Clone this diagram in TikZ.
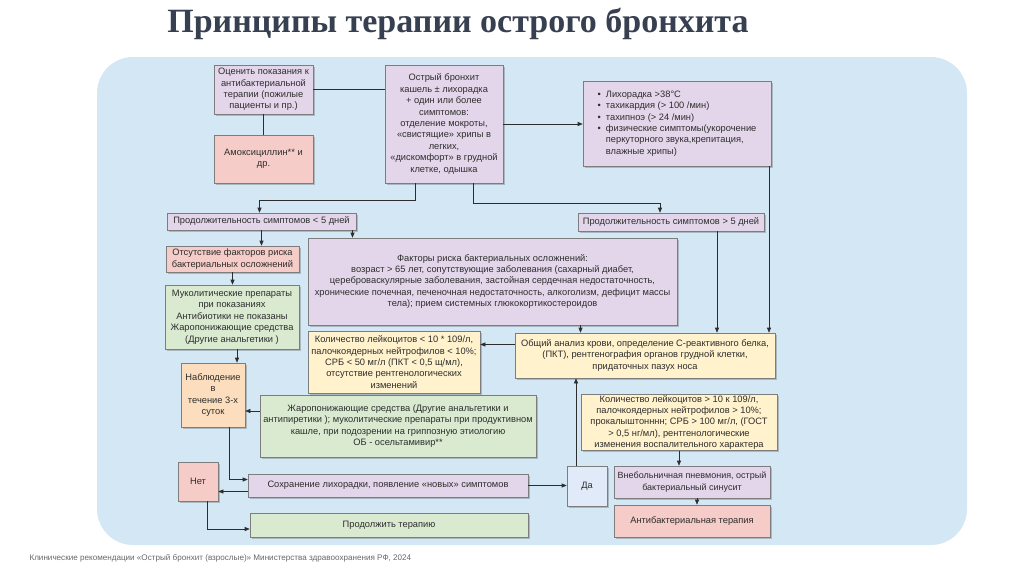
\documentclass[tikz,border=0pt]{standalone}
\usepackage{fontspec}
\setmainfont{Liberation Sans}
\newfontfamily\titlefont{Liberation Serif}
\usetikzlibrary{arrows.meta,positioning,calc,shadows}

\definecolor{bgblue}{RGB}{212,231,244}
\definecolor{lilac}{RGB}{228,214,234}
\definecolor{rose}{RGB}{246,204,200}
\definecolor{mint}{RGB}{217,234,208}
\definecolor{cream}{RGB}{255,242,204}
\definecolor{peach}{RGB}{252,222,190}
\definecolor{sky}{RGB}{224,234,248}
\definecolor{edge}{RGB}{125,125,125}
\definecolor{ink}{RGB}{45,45,45}
\definecolor{titleink}{RGB}{55,64,80}

\begin{document}
\begin{tikzpicture}[x=1pt, y=-1pt,
    box/.style={draw=edge, line width=0.6pt, align=center, inner sep=1pt, text=ink,
        font=\fontsize{9.3}{11.4}\selectfont,
        drop shadow={shadow xshift=1.5pt, shadow yshift=-1.5pt, opacity=0.3, fill=black!70}},
    arr/.style={-{Triangle[length=5pt, width=4pt]}, line width=0.6pt, draw=ink},
    link/.style={line width=0.6pt, draw=ink}
]
\useasboundingbox (0,0) rectangle (1024,574);
\fill[bgblue, rounded corners=36pt] (97,57) rectangle (967,545);

\node[font=\titlefont\bfseries\fontsize{34}{40}\selectfont, text=titleink] (title) at (458,24) {Принципы терапии острого бронхита};
\node[anchor=west, font=\fontsize{8.1}{9}\selectfont, text=black!60] (src) at (26,558) {Клинические рекомендации «Острый бронхит (взрослые)» Министерства здравоохранения РФ, 2024};

\node[box, fill=lilac, minimum width=99pt, minimum height=49pt] (assess) at (263.5,89.5) {Оценить показания к\\антибактериальной\\терапии (пожилые\\пациенты и пр.)};
\node[box, fill=rose, minimum width=99pt, minimum height=48pt] (amox) at (263.5,159) {Амоксициллин** и\\др.};
\node[box, fill=lilac, minimum width=118pt, minimum height=118pt] (acute) at (444,124) {Острый бронхит\\кашель ± лихорадка\\+ один или более\\симптомов:\\отделение мокроты,\\«свистящие» хрипы в\\легких,\\«дискомфорт» в грудной\\клетке, одышка};
\node[box, fill=lilac, minimum width=188pt, minimum height=85pt] (signs) at (677,123.5) {\begin{tabular}{@{}l@{\hspace{5pt}}l@{}}
\textbullet & Лихорадка >38°С\\
\textbullet & тахикардия (> 100 /мин)\\
\textbullet & тахипноэ (> 24 /мин)\\
\textbullet & физические симптомы(укорочение\\
 & перкуторного звука,крепитация,\\
 & влажные хрипы)
\end{tabular}};

\node[box, fill=lilac, minimum width=189pt, minimum height=17pt] (short5) at (261.5,221.5) {Продолжительность симптомов < 5 дней};
\node[box, fill=lilac, minimum width=186pt, minimum height=18pt] (long5) at (671,222) {Продолжительность симптомов > 5 дней};

\node[box, fill=rose, minimum width=133pt, minimum height=26pt] (norisk) at (232.5,259) {Отсутствие факторов риска\\бактериальных осложнений};
\node[box, fill=lilac, minimum width=369pt, minimum height=87pt] (risk) at (492.5,281.5) {Факторы риска бактериальных осложнений:\\возраст > 65 лет, сопутствующие заболевания (сахарный диабет,\\цереброваскулярные заболевания, застойная сердечная недостаточность,\\хронические почечная, печеночная недостаточность, алкоголизм, дефицит массы\\тела); прием системных глюкокортикостероидов};
\node[box, fill=mint, minimum width=134pt, minimum height=64pt] (muco) at (232,317) {Муколитические препараты\\при показаниях\\Антибиотики не показаны\\Жаропонижающие средства\\(Другие анальгетики )};

\node[box, fill=cream, minimum width=172pt, minimum height=62pt] (lowlab) at (394,362) {Количество лейкоцитов < 10 * 109/л,\\палочкоядерных нейтрофилов < 10\%;\\СРБ < 50 мг/л (ПКТ < 0,5 щ/мл),\\отсутствие рентгенологических\\изменений};
\node[box, fill=cream, minimum width=260pt, minimum height=45pt] (tests) at (645,355.5) {Общий анализ крови, определение С-реактивного белка,\\(ПКТ), рентгенография органов грудной клетки,\\придаточных пазух носа};
\node[box, fill=peach, minimum width=64pt, minimum height=64pt] (watch) at (213,395) {Наблюдение\\в\\течение 3-х\\суток};
\node[box, fill=mint, minimum width=276pt, minimum height=62pt] (antipyr) at (398,426) {Жаропонижающие средства (Другие анальгетики и\\антипиретики ); муколитические препараты при продуктивном\\кашле, при подозрении на гриппозную этиологию\\ОБ - осельтамивир**};
\node[box, fill=cream, minimum width=196pt, minimum height=55pt] (highlab) at (679,422.5) {Количество лейкоцитов > 10 к 109/л,\\палочкоядерных нейтрофилов > 10\%;\\прокалыштонннн; СРБ > 100 мг/л, (ГОСТ\\> 0,5 нг/мл), рентгенологические\\изменения воспалительного характера};

\node[box, fill=rose, minimum width=40pt, minimum height=39pt] (no) at (198,481.5) {Нет};
\node[box, fill=lilac, minimum width=280pt, minimum height=23pt] (persist) at (388,485.5) {Сохранение лихорадки, появление «новых» симптомов};
\node[box, fill=sky, minimum width=40pt, minimum height=40pt] (yes) at (587,486) {Да};
\node[box, fill=lilac, minimum width=156pt, minimum height=32pt, font=\fontsize{9}{11.4}\selectfont] (pneum) at (692,482) {Внебольничная пневмония, острый\\бактериальный синусит};
\node[box, fill=rose, minimum width=156pt, minimum height=32pt] (abx) at (692,521) {Антибактериальная терапия};
\node[box, fill=mint, minimum width=278pt, minimum height=24pt] (cont) at (389,525) {Продолжить терапию};

\draw[link] (assess.east) -- (assess.east -| acute.west);
\draw[link] (assess) -- (amox);
\draw[arr] (acute.east) -- (acute.east -| signs.west);
\draw[arr] ([xshift=-29pt]acute.south) -- ++(0,17) -| ([xshift=-2pt]short5.north);
\draw[arr] ([xshift=29pt]acute.south) -- ++(0,20) -| ([xshift=-11pt]long5.north);
\draw[arr] (short5.south) -- (short5.south |- norisk.north);
\draw[arr] ([xshift=91pt]short5.south) -- ([xshift=91pt]short5.south |- risk.north);
\draw[arr] (norisk.south) -- (norisk.south |- muco.north);
\draw[arr] ([xshift=5pt]muco.south) -- ([xshift=5pt]muco.south |- watch.north);
\draw[arr] ([xshift=88pt]risk.south) -- ([xshift=88pt]risk.south |- tests.north);
\draw[arr] ([xshift=46pt]long5.south) -- ([xshift=46pt]long5.south |- tests.north);
\draw[arr] ([xshift=92pt]signs.south) -- ([xshift=92pt]signs.south |- tests.north);
\draw[arr] ([yshift=11pt]tests.west) -- ([yshift=11pt]tests.west -| lowlab.east);
\draw[arr] ([xshift=-11pt]yes.north) -- ([xshift=-11pt]yes.north |- tests.south);
\draw[arr] (highlab.south) -- (highlab.south |- pneum.north);
\draw[arr] ([xshift=5pt]pneum.south) -- ([xshift=5pt]pneum.south |- abx.north);
\draw[arr] ([yshift=15pt]antipyr.west) -- ([yshift=15pt]antipyr.west -| watch.east);
\draw[arr] ([xshift=16pt]watch.south) |- ([yshift=6pt]persist.west);
\draw[arr] ([yshift=-6pt]persist.west) -- ([yshift=-6pt]persist.west -| no.east);
\draw[arr] (persist.east) -- (persist.east -| yes.west);
\draw[arr] ([xshift=9pt]no.south) |- ([yshift=-4pt]cont.west);
\end{tikzpicture}
\end{document}
